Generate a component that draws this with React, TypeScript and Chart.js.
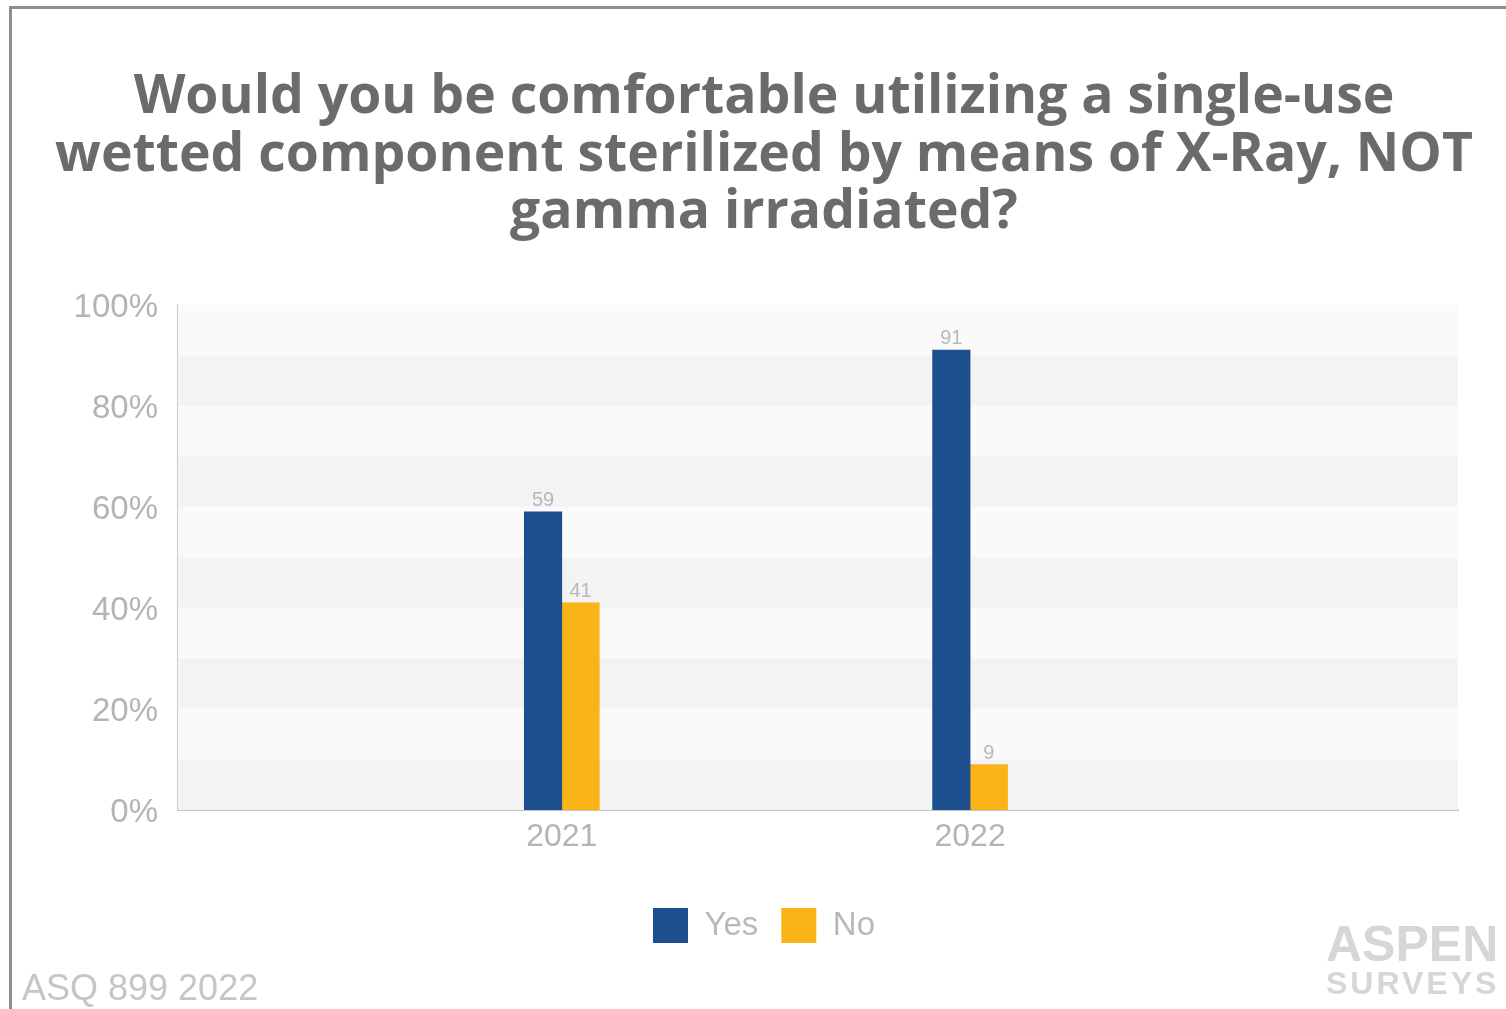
import React, { useEffect, useRef } from 'react';
import { Chart, registerables } from 'chart.js';

Chart.register(...registerables);

// ---- data ----
const years = [2021, 2022];
const yesValues = [59, 91];
const noValues = [41, 9];
const seriesNames = ['Yes', 'No'];
const yTickValues = [0, 20, 40, 60, 80, 100];
const titleLines = [
  'Would you be comfortable utilizing a single-use',
  'wetted component sterilized by means of X-Ray, NOT',
  'gamma irradiated?',
];
const sourceNote = 'ASQ 899 2022';
const logoTop = 'ASPEN';
const logoBottom = 'SURVEYS';

// ---- style ----
const W = 1506;
const H = 1009;
const BLUE = '#1d4e8d';
const GOLD = '#fbb418';
const AXIS_TEXT = '#b4b4b4';
const X_MIN = 2020.06;
const X_MAX = 2023.195;
const BAND_STEP = 10;

const bandsPlugin = {
  id: 'bands',
  beforeDatasetsDraw(chart: any) {
    const { ctx, chartArea, scales } = chart;
    const y = scales.y;
    ctx.save();
    for (let v = 0, i = 0; v < 100; v += BAND_STEP, i++) {
      const top = y.getPixelForValue(v + BAND_STEP);
      const bot = y.getPixelForValue(v);
      ctx.fillStyle = i % 2 === 0 ? '#f3f3f3' : '#fafafa';
      ctx.fillRect(chartArea.left, top, chartArea.right - chartArea.left, bot - top);
    }
    ctx.restore();
  },
};

const valueLabelsPlugin = {
  id: 'valueLabels',
  afterDatasetsDraw(chart: any) {
    const { ctx } = chart;
    ctx.save();
    ctx.font = '20px "Liberation Sans", Arial, sans-serif';
    ctx.fillStyle = '#b8b8b8';
    ctx.textAlign = 'center';
    ctx.textBaseline = 'alphabetic';
    chart.data.datasets.forEach((ds: any, di: number) => {
      const meta = chart.getDatasetMeta(di);
      meta.data.forEach((el: any, i: number) => {
        const v = ds.data[i].y;
        ctx.fillText(String(v), el.x, el.y - 6);
      });
    });
    ctx.restore();
  },
};

export default function App() {
  const canvasRef = useRef<HTMLCanvasElement | null>(null);

  useEffect(() => {
    document.body.style.margin = '0';
    const canvas = canvasRef.current;
    if (!canvas) return;
    const chart = new Chart(canvas, {
      type: 'bar',
      data: {
        datasets: [
          {
            label: seriesNames[0],
            data: years.map((yr, i) => ({ x: yr, y: yesValues[i] })),
            backgroundColor: BLUE,
            borderWidth: 0,
            barThickness: 37.5,
          },
          {
            label: seriesNames[1],
            data: years.map((yr, i) => ({ x: yr, y: noValues[i] })),
            backgroundColor: GOLD,
            borderWidth: 0,
            barThickness: 37.5,
          },
        ],
      },
      options: {
        animation: false,
        responsive: false,
        maintainAspectRatio: false,
        layout: { padding: { left: 22, right: 0, top: 0, bottom: 56 } },
        plugins: {
          tooltip: { enabled: false },
          title: {
            display: true,
            text: titleLines,
            color: '#6b6b6d',
            font: { family: '"Open Sans", sans-serif', weight: 'bold', size: 53.5, lineHeight: 1.075 },
            padding: { top: 69, bottom: 63 },
          },
          legend: {
            position: 'bottom',
            labels: {
              boxWidth: 35,
              boxHeight: 35,
              padding: 23,
              color: '#b9b9b9',
              font: { family: '"Liberation Sans", Arial, sans-serif', size: 33 },
            },
          },
        },
        scales: {
          x: {
            type: 'linear',
            offset: false,
            min: X_MIN,
            max: X_MAX,
            afterBuildTicks: (scale: any) => {
              scale.ticks = years.map((v) => ({ value: v }));
            },
            afterFit: (scale: any) => {
              scale.height = 75;
            },
            grid: { display: false, drawTicks: false, offset: false },
            border: { display: true, color: '#c4c4c4', width: 2 },
            ticks: {
              padding: 8,
              color: AXIS_TEXT,
              font: { family: '"Liberation Sans", Arial, sans-serif', size: 32 },
              callback: (v: any) => String(v),
            },
          },
          y: {
            min: 0,
            max: 100,
            afterBuildTicks: (scale: any) => {
              scale.ticks = yTickValues.map((v) => ({ value: v }));
            },
            afterFit: (scale: any) => {
              scale.width = 156;
            },
            grid: { display: false, drawTicks: false },
            border: { display: true, color: '#cacaca', width: 2 },
            ticks: {
              padding: 20,
              labelOffset: 3,
              color: AXIS_TEXT,
              font: { family: '"Liberation Sans", Arial, sans-serif', size: 33 },
              callback: (v: any) => v + '%',
            },
          },
          yRight: {
            position: 'right',
            display: true,
            min: 0,
            max: 100,
            afterFit: (scale: any) => {
              scale.width = 48;
            },
            grid: { display: false, drawTicks: false },
            border: { display: false },
            ticks: { display: false },
          },
        },
      } as any,
      plugins: [bandsPlugin, valueLabelsPlugin],
    });
    return () => chart.destroy();
  }, []);

  return (
    <div style={{ position: 'relative', width: W, height: H, overflow: 'hidden', background: '#fff' }}>
      <div
        style={{
          position: 'absolute',
          left: 9,
          top: 6,
          width: W,
          height: H,
          borderTop: '3px solid #8e8e8e',
          borderLeft: '3px solid #8e8e8e',
          boxSizing: 'border-box',
        }}
      />
      <canvas
        ref={canvasRef}
        width={W}
        height={H}
        style={{ position: 'absolute', left: 0, top: 0, width: W, height: H, display: 'block' }}
      />
      <div
        style={{
          position: 'absolute',
          left: 22,
          top: 970,
          fontFamily: '"Liberation Sans", Arial, sans-serif',
          fontSize: 36,
          lineHeight: 1,
          color: '#c6c6c6',
          whiteSpace: 'nowrap',
        }}
      >
        {sourceNote}
      </div>
      <div
        style={{
          position: 'absolute',
          left: 1326,
          top: 919,
          fontFamily: '"Liberation Sans", Arial, sans-serif',
          fontWeight: 'bold',
          color: '#d6d6d6',
          whiteSpace: 'nowrap',
        }}
      >
        <div style={{ fontSize: 50, lineHeight: 1 }}>{logoTop}</div>
        <div style={{ fontSize: 32, lineHeight: 1, letterSpacing: 3, marginTop: -2 }}>{logoBottom}</div>
      </div>
    </div>
  );
}
